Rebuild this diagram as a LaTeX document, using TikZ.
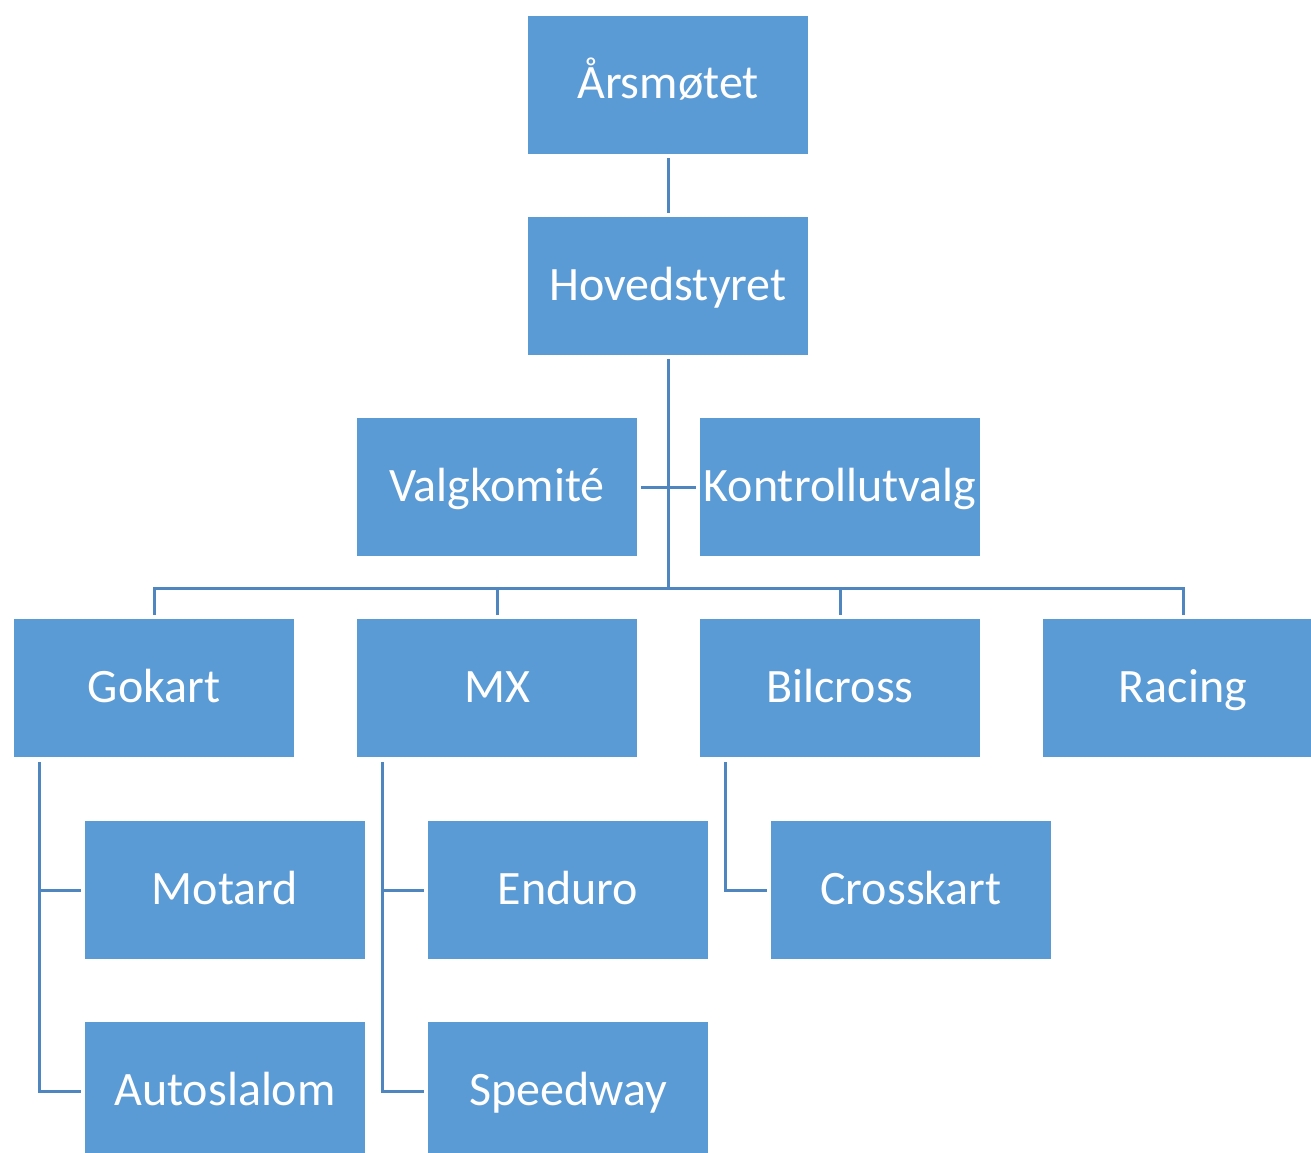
\documentclass[tikz,border=0pt]{standalone}
\usepackage{fontspec}
\setmainfont{Carlito}
\definecolor{boxblue}{HTML}{5B9BD5}
\definecolor{linkblue}{HTML}{4F86BF}
\begin{document}
\begin{tikzpicture}[x=1pt,y=-1pt,
  orgbox/.style={draw=white, line width=1.2pt, fill=boxblue, text=white,
    minimum width=281pt, minimum height=139pt, inner sep=0pt,
    text height=37pt, text depth=9pt,
    font=\fontsize{48}{56}\selectfont},
  link/.style={draw=linkblue, line width=3pt, line cap=butt}]
\useasboundingbox (0,0) rectangle (1311,1153);
\begin{scope}
\clip (0,0) rectangle (1311,1153);
\node[orgbox] (aars) at (668,85) {Årsmøtet};
\node[orgbox] (hoved) at (668,286) {Hovedstyret};
\node[orgbox] (valg) at (497,487) {Valgkomité};
\node[orgbox] (kontroll) at (840,487) {Kontrollutvalg};
\node[orgbox] (gokart) at (154,688) {Gokart};
\node[orgbox] (mx) at (497,688) {MX};
\node[orgbox] (bilcross) at (840,688) {Bilcross};
\node[orgbox] (racing) at (1183,688) {Racing};
\node[orgbox] (motard) at (225,890) {Motard};
\node[orgbox] (enduro) at (568,890) {Enduro};
\node[orgbox] (crosskart) at (911,890) {Crosskart};
\node[orgbox] (auto) at (225,1091) {Autoslalom};
\node[orgbox] (speedway) at (568,1091) {Speedway};

\coordinate (bar) at (668,588);
\draw[link] ([yshift=-3pt]aars.south) -- ([yshift=3pt]hoved.south |- hoved.north);
\draw[link] ([yshift=-3pt]hoved.south) -- (bar);
\draw[link] ([xshift=3pt]valg.east) -- ([xshift=-3pt]kontroll.west);
\draw[link] ([yshift=3pt]gokart.north) |- (bar) -| ([yshift=3pt]racing.north);
\draw[link] ([yshift=3pt]mx.north) -- (mx.north |- bar);
\draw[link] ([yshift=3pt]bilcross.north) -- (bilcross.north |- bar);
\coordinate (gk) at ([xshift=27pt,yshift=-4pt]gokart.south west);
\coordinate (mk) at ([xshift=27pt,yshift=-4pt]mx.south west);
\coordinate (bk) at ([xshift=27pt,yshift=-4pt]bilcross.south west);
\draw[link] (gk) |- ([xshift=-3pt]auto.west);
\draw[link] (gk |- motard.west) -- ([xshift=-3pt]motard.west);
\draw[link] (mk) |- ([xshift=-3pt]speedway.west);
\draw[link] (mk |- enduro.west) -- ([xshift=-3pt]enduro.west);
\draw[link] (bk) |- ([xshift=-3pt]crosskart.west);
\end{scope}
\end{tikzpicture}
\end{document}
